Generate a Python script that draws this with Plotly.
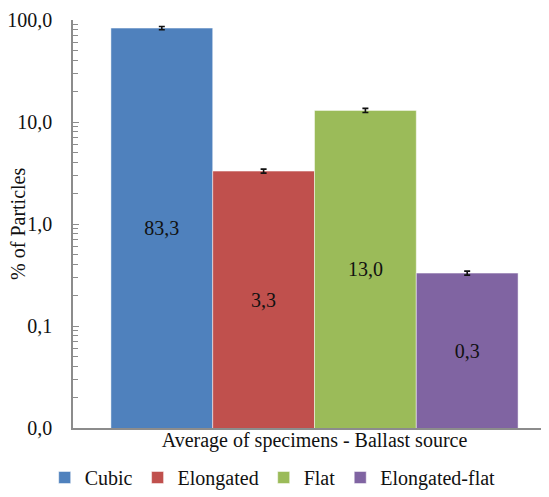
import plotly.graph_objects as go

categories = ["Cubic", "Elongated", "Flat", "Elongated-flat"]
values = [83.3, 3.3, 13.0, 0.33]
errors = [3.0, 0.15, 0.6, 0.015]
colors = ["#4F81BD", "#C0504D", "#9BBB59", "#8064A2"]
group_label = ["Average of specimens - Ballast source"]
y_title = "% of Particles"
ytick_vals = [0.01, 0.1, 1, 10, 100]
ytick_text = ["0,0", "0,1", "1,0", "10,0", "100,0"]

FONT = "'Liberation Serif', 'Times New Roman', serif"
FS = 20

fig = go.Figure()
for name, v, e, c in zip(categories, values, errors, colors):
    fig.add_trace(go.Bar(
        name=name, x=group_label, y=[v],
        marker=dict(color=c, line=dict(color="rgba(255,255,255,0.6)", width=0.8)),
        error_y=dict(type="data", array=[e], visible=True, color="#111111", thickness=1.6, width=3),
        texttemplate="%{y:.1f}", textposition="inside", insidetextanchor="middle",
        textfont=dict(family=FONT, size=FS, color="#111111"),
        textangle=0,
    ))

minor_vals = [k * 10 ** p for p in range(-2, 2) for k in range(2, 10)]

# the page body has an 8px margin; the plot area runs slightly past the right edge of the window
fig.update_layout(
    width=548, height=489,
    margin=dict(l=65, r=0, t=12, b=69),
    paper_bgcolor="white", plot_bgcolor="white",
    barmode="group", bargap=0.157, bargroupgap=0,
    separators=",.",
    font=dict(family=FONT, size=FS, color="#111111"),
    showlegend=True,
    legend=dict(orientation="h", xref="container", x=0.483, xanchor="center",
                yref="container", y=0.0, yanchor="bottom",
                font=dict(family=FONT, size=FS), itemwidth=30, tracegroupgap=0),
    annotations=[dict(text=y_title, textangle=-90, xref="paper", yref="paper",
                      x=-0.114, y=0.5, xanchor="center", yanchor="middle",
                      showarrow=False, font=dict(family=FONT, size=FS, color="#111111"))],
)
fig.update_xaxes(
    automargin=False,
    showticklabels=False, ticks="",
    showline=True, linecolor="#8C8C8C", linewidth=1.5,
    title=dict(text=group_label[0], standoff=4, font=dict(family=FONT, size=FS)),
)
fig.update_yaxes(
    automargin=False,
    type="log", range=[-2, 2],
    tickmode="array", tickvals=ytick_vals, ticktext=ytick_text,
    ticks="inside", ticklen=6, tickcolor="#8C8C8C", tickwidth=1,
    minor=dict(tickmode="array", tickvals=minor_vals, ticks="inside", ticklen=5,
               tickcolor="#8C8C8C", tickwidth=1, showgrid=False),
    showgrid=False, zeroline=False,
    showline=True, linecolor="#8C8C8C", linewidth=1.5,
    tickfont=dict(family=FONT, size=FS),
    ticklabelstandoff=15,
)

fig.write_html("out.html")
